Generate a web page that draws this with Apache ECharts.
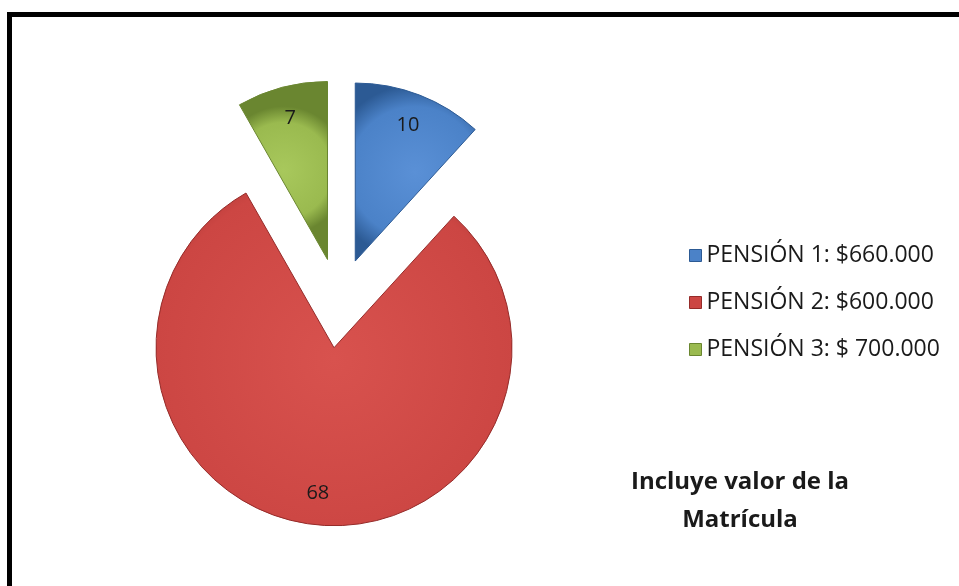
<!DOCTYPE html>
<html>
<head>
<meta charset="utf-8">
<script src="https://cdn.jsdelivr.net/npm/echarts@6/dist/echarts.min.js"></script>
<style>
  html, body { margin: 0; padding: 0; background: #fff; }
  #frame {
    position: absolute; left: 7px; top: 12px; width: 952px; height: 574px;
    border-top: 5px solid #000; border-left: 5px solid #000; box-sizing: border-box;
  }
  #chart { position: absolute; left: 0; top: 0; width: 959px; height: 586px; }
</style>
</head>
<body>
<div id="frame"></div>
<div id="chart"></div>
<script>
// datos del gráfico
const categories = ['PENSIÓN 1: $660.000', 'PENSIÓN 2: $600.000', 'PENSIÓN 3: $ 700.000']
const values = [10, 68, 7]
const colors = [
  ['#5a90d6', '#4b82c8', '#2c5a94'],
  ['#d8524e', '#cc4643', '#952b29'],
  ['#a8c85c', '#9aba4f', '#6a8630']
]
const note = 'Incluye valor de la\nMatrícula'

const font = '"Open Sans", Lato, sans-serif'

function shade (c) {
  return {
    type: 'radial', x: 0.5, y: 0.5, r: 0.72,
    colorStops: [
      { offset: 0, color: c[0] },
      { offset: 0.75, color: c[1] },
      { offset: 1, color: c[2] }
    ]
  }
}

const chart = echarts.init(document.getElementById('chart'))

const pieData = categories.map((name, i) => ({
  name: name,
  value: values[i],
  selected: true,
  itemStyle: { color: shade(colors[i]), borderColor: colors[i][2], borderWidth: 1 }
}))

const labelData = categories.map((name, i) => ({
  name: name,
  value: values[i],
  selected: true,
  itemStyle: { color: 'rgba(0,0,0,0)' }
}))

chart.setOption({
  animation: false,
  legend: {
    orient: 'vertical',
    left: 684,
    top: 239,
    itemWidth: 12,
    itemHeight: 12,
    itemGap: 24,
    icon: 'rect',
    data: categories.map((name, i) => ({ name: name, itemStyle: { color: colors[i][1], borderColor: colors[i][2], borderWidth: 1 } })),
    textStyle: { fontFamily: font, fontSize: 23, color: '#1a1a1a' },
    selectedMode: false
  },
  graphic: [{
    type: 'text',
    x: 740,
    y: 463,
    style: {
      text: note,
      font: 'bold 24px ' + font,
      fill: '#1a1a1a',
      align: 'center',
      lineHeight: 38
    }
  }],
  series: [
    {
      type: 'pie',
      center: [339, 303],
      radius: 178,
      startAngle: 90,
      clockwise: true,
      selectedMode: 'multiple',
      selectedOffset: 45,
      silent: true,
      label: { show: false },
      labelLine: { show: false },
      emphasis: { disabled: true },
      data: pieData
    },
    {
      type: 'pie',
      center: [339, 303],
      radius: [108, 178],
      startAngle: 90,
      clockwise: true,
      selectedMode: 'multiple',
      selectedOffset: 45,
      silent: true,
      label: {
        show: true,
        position: 'inside',
        formatter: '{c}',
        fontFamily: font,
        fontSize: 20,
        color: '#1a1a1a'
      },
      labelLine: { show: false },
      emphasis: { disabled: true },
      data: labelData
    }
  ]
})
</script>
</body>
</html>
